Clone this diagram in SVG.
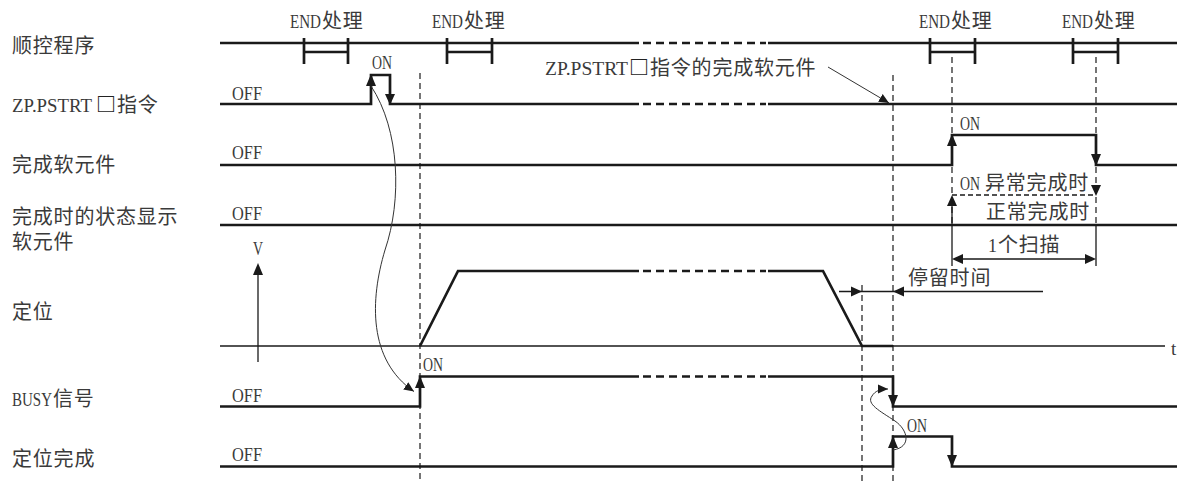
<svg xmlns="http://www.w3.org/2000/svg" width="1177" height="483" viewBox="0 0 1177 483">
<style>
.sig{fill:none;stroke:#1a1a1a;stroke-width:2.7;stroke-linejoin:miter}
.sigd{fill:none;stroke:#1a1a1a;stroke-width:2.7;stroke-dasharray:8 5}
.thin{fill:none;stroke:#1a1a1a;stroke-width:1.3}
.cv{fill:none;stroke:#333;stroke-width:1}
.vd{fill:none;stroke:#1a1a1a;stroke-width:1.2;stroke-dasharray:6 4}
.hd{fill:none;stroke:#1a1a1a;stroke-width:1.3;stroke-dasharray:5 3}
.ah{fill:#1a1a1a}
text{font-family:"Liberation Serif","Noto Sans CJK SC",serif;font-size:20px;fill:#3a3a3a}
.cj{font-family:"Noto Sans CJK SC",sans-serif;letter-spacing:0.8px}
.lt{font-family:"Liberation Serif",serif;font-size:19px}
.bx{font-family:"Noto Sans CJK SC",sans-serif;font-weight:700;fill:#222}
</style>
<defs>
<marker id="arr" viewBox="0 0 10 10" refX="10" refY="5" markerWidth="10" markerHeight="10" markerUnits="userSpaceOnUse" orient="auto"><path d="M0,0.5 L10,5 L0,9.5 z" fill="#1a1a1a"/></marker>
</defs>

<g id="labels">
<text class="cj" x="12" y="53">顺控程序</text>
<text class="lt" x="12" y="112" textLength="80" lengthAdjust="spacingAndGlyphs">ZP.PSTRT</text>
<text class="bx" x="96" y="112">□</text>
<text class="cj" x="117" y="112">指令</text>
<text class="cj" x="12" y="172">完成软元件</text>
<text class="cj" x="12" y="224">完成时的状态显示</text>
<text class="cj" x="12" y="249">软元件</text>
<text class="cj" x="12" y="319">定位</text>
<text class="lt" x="12" y="406" textLength="40" lengthAdjust="spacingAndGlyphs">BUSY</text>
<text class="cj" x="53" y="406">信号</text>
<text class="cj" x="12" y="466">定位完成</text>
</g>

<g id="seq">
<path class="sig" d="M220,43 H639 M768,43 H1177"/>
<path class="sigd" d="M643,43 H766"/>
<path class="sig" d="M304,38 V64 M348,38 V64 M304,52 H348"/>
<path class="sig" d="M447,38 V64 M492,38 V64 M447,52 H492"/>
<path class="sig" d="M930,38 V64 M975,38 V64 M930,52 H975"/>
<path class="sig" d="M1073,38 V64 M1118,38 V64 M1073,52 H1118"/>
<text class="lt" x="290" y="28" textLength="31" lengthAdjust="spacingAndGlyphs">END</text>
<text class="cj" x="322" y="28">处理</text>
<text class="lt" x="432" y="28" textLength="31" lengthAdjust="spacingAndGlyphs">END</text>
<text class="cj" x="464" y="28">处理</text>
<text class="lt" x="919" y="28" textLength="31" lengthAdjust="spacingAndGlyphs">END</text>
<text class="cj" x="951" y="28">处理</text>
<text class="lt" x="1062" y="28" textLength="31" lengthAdjust="spacingAndGlyphs">END</text>
<text class="cj" x="1094" y="28">处理</text>
</g>

<g id="pstrt">
<path class="sig" d="M220,104 H371 V75 H390 V104 H639 M768,104 H1177"/>
<path class="sigd" d="M643,104 H766"/>
<polygon class="ah" points="371,74 366,86 376,86"/>
<polygon class="ah" points="390,105 385,94 395,94"/>
<text class="lt" x="232" y="100" textLength="30" lengthAdjust="spacingAndGlyphs">OFF</text>
<text class="lt" x="372" y="69" textLength="20" lengthAdjust="spacingAndGlyphs">ON</text>
<text class="lt" x="545" y="75" textLength="83" lengthAdjust="spacingAndGlyphs">ZP.PSTRT</text>
<text class="bx" x="629" y="75">□</text>
<text class="cj" x="650" y="75">指令的完成软元件</text>
</g>

<g id="complete">
<path class="sig" d="M220,165 H952 V135 H1096 V165 H1177"/>
<polygon class="ah" points="952,134 947,146 957,146"/>
<polygon class="ah" points="1096,166 1091,154 1101,154"/>
<text class="lt" x="232" y="159" textLength="30" lengthAdjust="spacingAndGlyphs">OFF</text>
<text class="lt" x="960" y="130" textLength="20" lengthAdjust="spacingAndGlyphs">ON</text>
</g>

<g id="status">
<path class="sig" d="M220,225 H1177"/>
<path class="hd" d="M952,195 H1096"/>
<path class="thin" d="M952,203 V225"/>
<polygon class="ah" points="952,195 947,206 957,206"/>
<polygon class="ah" points="1096,196 1091,185 1101,185"/>
<text class="lt" x="232" y="220" textLength="30" lengthAdjust="spacingAndGlyphs">OFF</text>
<text class="lt" x="960" y="190" textLength="20" lengthAdjust="spacingAndGlyphs">ON</text>
<text class="cj" x="985" y="190">异常完成时</text>
<text class="cj" x="986" y="219">正常完成时</text>
<path class="thin" d="M952,225 V266 M1096,225 V266 M961,259 H1087"/>
<polygon class="ah" points="952,259 963,254 963,264"/>
<polygon class="ah" points="1096,259 1085,254 1085,264"/>
<text class="lt" x="988" y="252" textLength="9" lengthAdjust="spacingAndGlyphs">1</text>
<text class="cj" x="998" y="252">个扫描</text>
</g>

<g id="position">
<path class="thin" d="M220,346 H1165"/>
<path class="thin" d="M258,272 V362"/>
<polygon class="ah" points="258,263 253,275 263,275"/>
<text class="lt" x="253" y="255" textLength="10" lengthAdjust="spacingAndGlyphs">V</text>
<text class="lt" x="1171" y="355">t</text>
<path class="sig" d="M420,346 L458,271 H639 M768,271 H823 L862,346 H893"/>
<path class="sigd" d="M643,271 H766"/>
<path class="thin" d="M839,291.5 H1043"/>
<polygon class="ah" points="862,291.5 851,286.5 851,296.5"/>
<polygon class="ah" points="893,291.5 904,286.5 904,296.5"/>
<text class="cj" x="908" y="285">停留时间</text>
</g>

<g id="busy">
<path class="sig" d="M220,406.5 H420 V376.5 H639 M768,376.5 H893 V406.5 H1177"/>
<path class="sigd" d="M643,376.5 H766"/>
<polygon class="ah" points="420,376 415,388 425,388"/>
<polygon class="ah" points="893,407 888,395 898,395"/>
<text class="lt" x="232" y="402" textLength="30" lengthAdjust="spacingAndGlyphs">OFF</text>
<text class="lt" x="423" y="371" textLength="20" lengthAdjust="spacingAndGlyphs">ON</text>
</g>

<g id="posdone">
<path class="sig" d="M220,466.5 H893 V436.5 H952 V466.5 H1177"/>
<polygon class="ah" points="893,436 888,448 898,448"/>
<polygon class="ah" points="952,467 947,455 957,455"/>
<text class="lt" x="232" y="461" textLength="30" lengthAdjust="spacingAndGlyphs">OFF</text>
<text class="lt" x="907" y="432" textLength="20" lengthAdjust="spacingAndGlyphs">ON</text>
</g>

<g id="connectors">
<path class="vd" d="M420,73 V483"/>
<path class="vd" d="M893,75 V483"/>
<path class="vd" d="M862,285 V483"/>
<path class="vd" d="M952,57 V225"/>
<path class="vd" d="M1096,57 V225"/>
<path class="cv" d="M371,86 C400,130 402,200 385,250 C370,300 368,360 414,391.5" marker-end="url(#arr)"/>
<path class="cv" d="M893,450 C912,447 908,430 895,421 C880,411 866,404 872,396 C875,391 880,389 888,389" marker-end="url(#arr)"/>
<path class="cv" d="M828,67 L889,103" marker-end="url(#arr)"/>
</g>
</svg>
